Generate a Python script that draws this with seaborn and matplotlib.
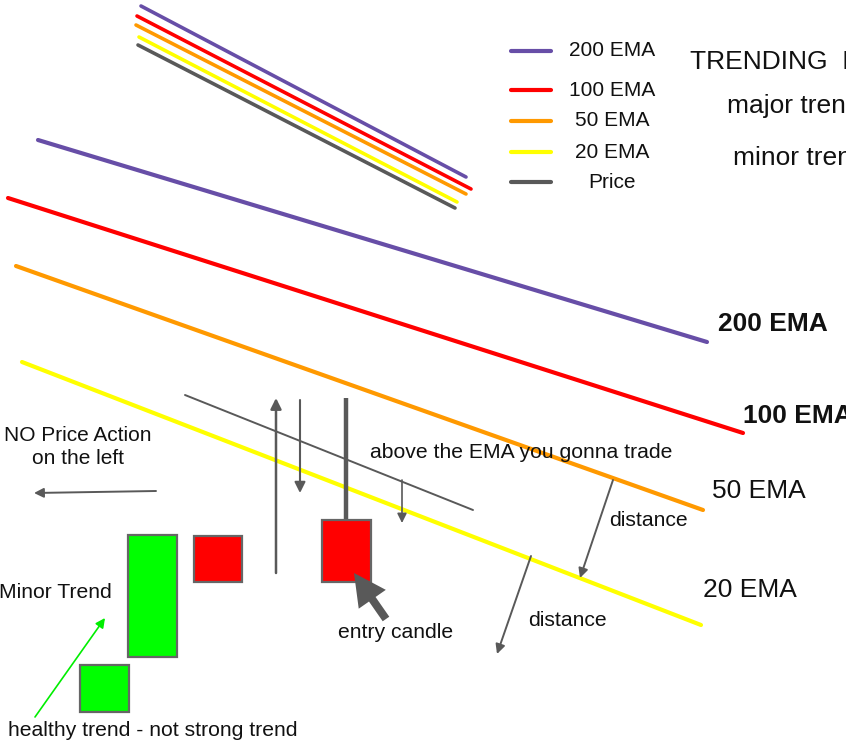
import matplotlib
matplotlib.use("Agg")
import matplotlib.pyplot as plt
import seaborn as sns
import pandas as pd
from matplotlib.patches import Rectangle

sns.set_theme(style="white")
plt.rcParams['font.family'] = ['Liberation Sans', 'DejaVu Sans']

# ---- data ----
ema_names = ["200 EMA", "100 EMA", "50 EMA", "20 EMA"]
ema_x0 = [38, 8, 16, 22]
ema_y0 = [140, 198, 266, 362]
ema_x1 = [707, 743, 703, 701]
ema_y1 = [342, 433, 510, 625]

mini_names = ["200 EMA", "100 EMA", "50 EMA", "20 EMA", "Price"]
mini_x0 = [141, 137, 136, 139, 138]
mini_y0 = [6, 16, 25, 37, 45]
mini_x1 = [466, 471, 466, 457, 455]
mini_y1 = [177, 189, 194, 202, 208]

legend_y = [51, 90, 121, 152, 182]

candle_left = [80, 128, 194, 322]
candle_right = [129, 177, 242, 371]
candle_top = [665, 535, 536, 520]
candle_bottom = [712, 657, 582, 582]
candle_kind = ["up", "up", "down", "down"]

colors = {"200 EMA": "#674ea7", "100 EMA": "#ff0000", "50 EMA": "#ff9900",
          "20 EMA": "#ffff00", "Price": "#595959"}
GRAY = "#595959"

fig = plt.figure(figsize=(8.46, 7.47), dpi=100)
ax = fig.add_axes([0, 0, 1, 1])

# main EMA lines
rows = []
for i, n in enumerate(ema_names):
    rows.append(dict(x=ema_x0[i], y=ema_y0[i], series=n, seg=f"m{i}"))
    rows.append(dict(x=ema_x1[i], y=ema_y1[i], series=n, seg=f"m{i}"))
df_main = pd.DataFrame(rows)
sns.lineplot(data=df_main, x="x", y="y", hue="series", units="seg", estimator=None,
             palette=colors, linewidth=3.0, legend=False, ax=ax)

rows = []
for i, n in enumerate(mini_names):
    rows.append(dict(x=mini_x0[i], y=mini_y0[i], series=n, seg=f"s{i}"))
    rows.append(dict(x=mini_x1[i], y=mini_y1[i], series=n, seg=f"s{i}"))
df_mini = pd.DataFrame(rows)
sns.lineplot(data=df_mini, x="x", y="y", hue="series", units="seg", estimator=None,
             palette=colors, linewidth=2.6, legend=False, ax=ax)

# legend samples
rows = []
for i, n in enumerate(mini_names):
    rows.append(dict(x=511, y=legend_y[i], series=n, seg=f"l{i}"))
    rows.append(dict(x=551, y=legend_y[i], series=n, seg=f"l{i}"))
df_leg = pd.DataFrame(rows)
sns.lineplot(data=df_leg, x="x", y="y", hue="series", units="seg", estimator=None,
             palette=colors, linewidth=3.0, legend=False, ax=ax)
for i, n in enumerate(mini_names):
    ax.text(612, legend_y[i], n, fontsize=15, ha="center", va="center", color="#111111")

ax.set_xlim(0, 846)
ax.set_ylim(747, 0)
ax.axis("off")

# candles
for l, r, t, b, k in zip(candle_left, candle_right, candle_top, candle_bottom, candle_kind):
    ax.add_patch(Rectangle((l, t), r - l, b - t, facecolor="#00ff00" if k == "up" else "#ff0000",
                           edgecolor="#666666", linewidth=1.6, zorder=4))
# wick of entry candle
ax.plot([346, 346], [398, 520], color=GRAY, lw=3.2, zorder=3, solid_capstyle="butt")

# thin trend line
ax.plot([185, 473], [395, 510], color=GRAY, lw=1.4)

def arrow(tail, head, lw=1.4, ms=12, color=GRAY):
    ax.annotate("", xy=head, xytext=tail,
                arrowprops=dict(arrowstyle="-|>", color=color, lw=lw, mutation_scale=ms,
                                shrinkA=0, shrinkB=0), zorder=5)

arrow((276, 573), (276, 398), lw=1.8, ms=16)
arrow((300, 400), (300, 493), lw=1.5, ms=16)
arrow((402, 480), (402, 523), lw=1.2, ms=14)
arrow((156, 491), (34, 493), lw=1.4, ms=14)
arrow((613, 480), (580, 578), lw=1.4, ms=14)
arrow((531, 556), (497, 654), lw=1.4, ms=14)
arrow((35, 717), (105, 618), lw=1.2, ms=14, color="#00ee00")
# thick arrow pointing at entry candle
ax.arrow(386, 619, 354 - 386, 573 - 619, width=8, head_width=33, head_length=32,
         length_includes_head=True, color=GRAY, zorder=6, linewidth=0)

# texts
T = dict(color="#111111")
ax.text(690, 62, "TRENDING  MARKET", fontsize=19, ha="left", va="center", **T)
ax.text(727, 106, "major trend", fontsize=19, ha="left", va="center", **T)
ax.text(733, 158, "minor trend", fontsize=19, ha="left", va="center", **T)
ax.text(718, 324, "200 EMA", fontsize=19, fontweight="bold", ha="left", va="center", **T)
ax.text(743, 416, "100 EMA", fontsize=19, fontweight="bold", ha="left", va="center", **T)
ax.text(712, 491, "50 EMA", fontsize=19, ha="left", va="center", **T)
ax.text(703, 590, "20 EMA", fontsize=19, ha="left", va="center", **T)
ax.text(78, 447, "NO Price Action\non the left", fontsize=15, ha="center", va="center",
        linespacing=1.25, **T)
ax.text(370, 452, "above the EMA you gonna trade", fontsize=15.2, ha="left", va="center", **T)
ax.text(609, 521, "distance", fontsize=15.2, ha="left", va="center", **T)
ax.text(528, 621, "distance", fontsize=15.2, ha="left", va="center", **T)
ax.text(338, 632, "entry candle", fontsize=15.2, ha="left", va="center", **T)
ax.text(-1, 592, "Minor Trend", fontsize=15.2, ha="left", va="center", **T)
ax.text(8, 731, "healthy trend - not strong trend", fontsize=15.2, ha="left", va="center", **T)

fig.savefig("out.png", dpi=100, facecolor="white")
